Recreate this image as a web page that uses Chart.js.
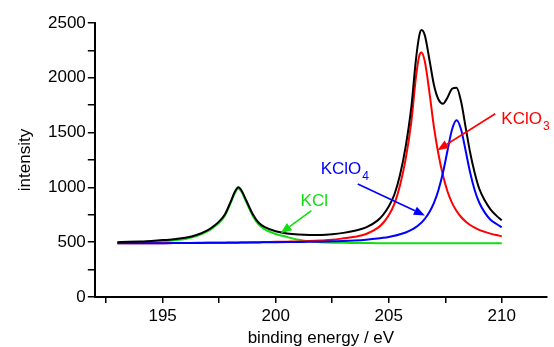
<!DOCTYPE html>
<html>
<head>
<meta charset="utf-8">
<script src="https://cdn.jsdelivr.net/npm/chart.js@4.4.1/dist/chart.umd.min.js"></script>
<style>
  html, body { margin: 0; padding: 0; background: #ffffff; }
  #wrap { width: 554px; height: 347px; position: relative; }
</style>
</head>
<body>
<div id="wrap"><canvas id="c" width="554" height="347"></canvas></div>
<script>
// ---- data ----
const energy = [193,193.5,194,194.5,195,195.5,196,196.5,197,197.25,197.5,197.75,198,198.2,198.35,198.5,198.7,199,199.25,199.5,200,200.5,201,201.5,202,202.5,203,203.5,204,204.5,204.75,205,205.25,205.5,205.75,206,206.2,206.35,206.45,206.6,206.8,207,207.2,207.4,207.6,207.8,208,208.2,208.4,208.6,208.8,209,209.25,209.5,209.75,210];

const envelope = [500,503,507,512,519,528,541,566,610,645,690,752,865,962,1001,968,880,750,678,640,600,580,570,566,566,572,585,605,635,697,750,825,935,1115,1375,1735,2160,2385,2436,2385,2165,1935,1802,1764,1820,1900,1910,1783,1550,1318,1134,990,880,800,745,700];

const kclo4 = [490,490,490,491,491,492,492,493,494,494,495,495,496,496,496,497,497,498,498,499,500,501,502,503,505,508,511,516,523,533,540,548,558,572,589,612,637,661,680,714,775,859,977,1136,1336,1528,1612,1528,1336,1136,977,862,770,705,668,637];

const kclo3 = [490,490,490,491,491,492,493,494,495,495,496,496,497,497,498,498,498,499,500,501,503,505,507,510,515,522,535,550,575,628,675,745,850,1020,1260,1600,2000,2200,2231,2145,1867,1550,1302,1108,963,859,785,730,689,657,632,612,594,578,565,554];

const kcl = [495,497,500,504,510,518,530,556,600,635,677,739,853,950,990,955,865,735,660,620,575,548,522,508,500,496,494,493,492,491,491,490,490,490,490,490,490,490,490,490,490,490,490,490,490,490,490,490,490,490,490,490,490,490,490,490];

const xTickLabels = [195, 200, 205, 210];
const xMinorTicks = [192.5, 197.5, 202.5, 207.5];
const yTickLabels = [0, 500, 1000, 1500, 2000, 2500];
const yMinorTicks = [250, 750, 1250, 1750, 2250];

const seriesNames = ['envelope', 'KClO4', 'KClO3', 'KCl'];

// annotation labels (text, subscript) anchored in data units
const labels = [
  { text: 'KCl',  sub: '',  color: '#11dd11', x: 201.1,  y: 827,  from: [201.58, 788],  to: [200.22, 582] },
  { text: 'KClO', sub: '4', color: '#0000ff', x: 201.99, y: 1119, from: [203.63, 1031], to: [206.6, 744] },
  { text: 'KClO', sub: '3', color: '#ff0000', x: 209.98, y: 1578, from: [209.71, 1672], to: [207.16, 1340] }
];

function pts(ys) { return energy.map((e, i) => ({ x: e, y: ys[i] })); }

const FONT = "'Liberation Sans', Arial, sans-serif";

const annotPlugin = {
  id: 'annot',
  afterDatasetsDraw(chart) {
    const { ctx, scales: { x, y } } = chart;
    ctx.save();
    labels.forEach(l => {
      const px = x.getPixelForValue(l.x), py = y.getPixelForValue(l.y);
      ctx.fillStyle = l.color;
      ctx.textBaseline = 'alphabetic';
      ctx.textAlign = 'left';
      ctx.font = '17px ' + FONT;
      ctx.fillText(l.text, px, py);
      if (l.sub) {
        const w = ctx.measureText(l.text).width;
        ctx.font = '12px ' + FONT;
        ctx.fillText(l.sub, px + w + 1, py + 6);
      }
      // arrow
      const x0 = x.getPixelForValue(l.from[0]), y0 = y.getPixelForValue(l.from[1]);
      const x1 = x.getPixelForValue(l.to[0]),   y1 = y.getPixelForValue(l.to[1]);
      const ang = Math.atan2(y1 - y0, x1 - x0);
      const hl = 11, hw = 4.5;
      const bx = x1 - hl * Math.cos(ang), by = y1 - hl * Math.sin(ang);
      ctx.strokeStyle = l.color;
      ctx.lineWidth = 1.6;
      ctx.beginPath();
      ctx.moveTo(x0, y0);
      ctx.lineTo(bx, by);
      ctx.stroke();
      ctx.beginPath();
      ctx.moveTo(x1, y1);
      ctx.lineTo(bx + hw * Math.sin(ang), by - hw * Math.cos(ang));
      ctx.lineTo(bx - hw * Math.sin(ang), by + hw * Math.cos(ang));
      ctx.closePath();
      ctx.fill();
    });
    ctx.restore();
  }
};

const ds = (label, data, color) => ({
  label, data: pts(data), borderColor: color, backgroundColor: color,
  borderWidth: 2, pointRadius: 0, showLine: true, fill: false,
  cubicInterpolationMode: 'monotone'
});

new Chart(document.getElementById('c'), {
  type: 'scatter',
  data: {
    datasets: [
      ds(seriesNames[0], envelope, '#000000'),
      ds(seriesNames[1], kclo4, '#0000ff'),
      ds(seriesNames[2], kclo3, '#ff0000'),
      ds(seriesNames[3], kcl, '#11dd11')
    ]
  },
  options: {
    responsive: false,
    devicePixelRatio: 1,
    animation: false,
    layout: { padding: { left: 16, right: 7, top: 23, bottom: 0 } },
    plugins: { legend: { display: false }, tooltip: { enabled: false } },
    scales: {
      x: {
        type: 'linear', min: 192, max: 212,
        afterBuildTicks(axis) {
          axis.ticks = [...xMinorTicks, ...xTickLabels].sort((a, b) => a - b).map(v => ({ value: v }));
        },
        ticks: {
          autoSkip: false, maxRotation: 0, padding: 5, color: '#000',
          font: { family: FONT, size: 17, lineHeight: 1 },
          callback: v => xTickLabels.includes(v) ? String(v) : ''
        },
        grid: { drawOnChartArea: false, drawTicks: true, tickLength: 6, color: '#000', lineWidth: 1.5 },
        border: { display: true, color: '#000', width: 2 },
        title: { display: true, text: 'binding energy / eV', color: '#000',
                 font: { family: FONT, size: 17, lineHeight: 1 }, padding: { top: 0, bottom: 0 } }
      },
      y: {
        type: 'linear', min: 0, max: 2500,
        afterBuildTicks(axis) {
          axis.ticks = [...yMinorTicks, ...yTickLabels].sort((a, b) => a - b).map(v => ({ value: v }));
        },
        ticks: {
          autoSkip: false, padding: 2, color: '#000',
          font: { family: FONT, size: 17, lineHeight: 1 },
          callback: v => yTickLabels.includes(v) ? String(v) : ''
        },
        grid: { drawOnChartArea: false, drawTicks: true, tickLength: 7, color: '#000', lineWidth: 1.5 },
        border: { display: true, color: '#000', width: 2 },
        title: { display: true, text: 'intensity', color: '#000',
                 font: { family: FONT, size: 17, lineHeight: 1 }, padding: { top: 1, bottom: 12 } }
      }
    }
  },
  plugins: [annotPlugin]
});
</script>
</body>
</html>
